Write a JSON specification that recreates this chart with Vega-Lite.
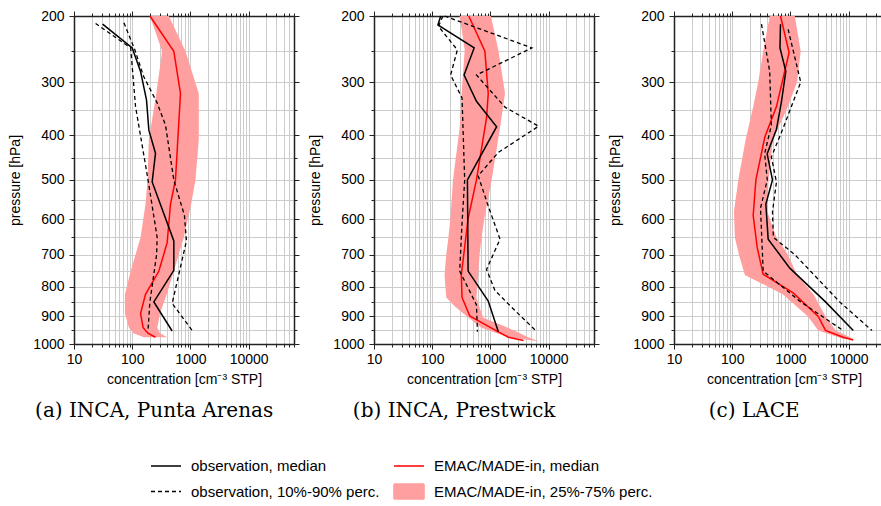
{
"$schema": "https://vega.github.io/schema/vega-lite/v6.json",
"background": "white",
"padding": {"left": 8, "top": 9, "right": 0, "bottom": 0},
"spacing": 8,
"config": {"view": {"stroke": null}, "font": "Liberation Sans"},
"datasets": {
"obs": [
{"panel":"a","series":"observation, median","q":"m","p":211,"c":31},
{"panel":"a","series":"observation, median","q":"m","p":245,"c":100},
{"panel":"a","series":"observation, median","q":"m","p":282,"c":139},
{"panel":"a","series":"observation, median","q":"m","p":332,"c":176},
{"panel":"a","series":"observation, median","q":"m","p":390,"c":193},
{"panel":"a","series":"observation, median","q":"m","p":439,"c":251},
{"panel":"a","series":"observation, median","q":"m","p":505,"c":220},
{"panel":"a","series":"observation, median","q":"m","p":660,"c":518},
{"panel":"a","series":"observation, median","q":"m","p":748,"c":518},
{"panel":"a","series":"observation, median","q":"m","p":850,"c":235},
{"panel":"a","series":"observation, median","q":"m","p":952,"c":485},
{"panel":"a","series":"observation, 10%-90% perc.","q":"p10","p":210,"c":23.5},
{"panel":"a","series":"observation, 10%-90% perc.","q":"p10","p":245,"c":94},
{"panel":"a","series":"observation, 10%-90% perc.","q":"p10","p":344,"c":114},
{"panel":"a","series":"observation, 10%-90% perc.","q":"p10","p":498,"c":186},
{"panel":"a","series":"observation, 10%-90% perc.","q":"p10","p":650,"c":268},
{"panel":"a","series":"observation, 10%-90% perc.","q":"p10","p":700,"c":262},
{"panel":"a","series":"observation, 10%-90% perc.","q":"p10","p":850,"c":201},
{"panel":"a","series":"observation, 10%-90% perc.","q":"p10","p":955,"c":186},
{"panel":"a","series":"observation, 10%-90% perc.","q":"p90","p":209,"c":72},
{"panel":"a","series":"observation, 10%-90% perc.","q":"p90","p":247,"c":110},
{"panel":"a","series":"observation, 10%-90% perc.","q":"p90","p":291,"c":158},
{"panel":"a","series":"observation, 10%-90% perc.","q":"p90","p":337,"c":268},
{"panel":"a","series":"observation, 10%-90% perc.","q":"p90","p":380,"c":373},
{"panel":"a","series":"observation, 10%-90% perc.","q":"p90","p":500,"c":518},
{"panel":"a","series":"observation, 10%-90% perc.","q":"p90","p":590,"c":789},
{"panel":"a","series":"observation, 10%-90% perc.","q":"p90","p":660,"c":853},
{"panel":"a","series":"observation, 10%-90% perc.","q":"p90","p":855,"c":485},
{"panel":"a","series":"observation, 10%-90% perc.","q":"p90","p":955,"c":1112},
{"panel":"b","series":"observation, median","q":"m","p":200,"c":140},
{"panel":"b","series":"observation, median","q":"m","p":212,"c":125},
{"panel":"b","series":"observation, median","q":"m","p":245,"c":525},
{"panel":"b","series":"observation, median","q":"m","p":288,"c":352},
{"panel":"b","series":"observation, median","q":"m","p":334,"c":575},
{"panel":"b","series":"observation, median","q":"m","p":383,"c":1276},
{"panel":"b","series":"observation, median","q":"m","p":500,"c":402},
{"panel":"b","series":"observation, median","q":"m","p":750,"c":413},
{"panel":"b","series":"observation, median","q":"m","p":847,"c":916},
{"panel":"b","series":"observation, median","q":"m","p":955,"c":1365},
{"panel":"b","series":"observation, 10%-90% perc.","q":"p10","p":200,"c":152},
{"panel":"b","series":"observation, 10%-90% perc.","q":"p10","p":214,"c":128},
{"panel":"b","series":"observation, 10%-90% perc.","q":"p10","p":248,"c":270},
{"panel":"b","series":"observation, 10%-90% perc.","q":"p10","p":288,"c":207},
{"panel":"b","series":"observation, 10%-90% perc.","q":"p10","p":328,"c":325},
{"panel":"b","series":"observation, 10%-90% perc.","q":"p10","p":500,"c":361},
{"panel":"b","series":"observation, 10%-90% perc.","q":"p10","p":610,"c":325},
{"panel":"b","series":"observation, 10%-90% perc.","q":"p10","p":750,"c":296},
{"panel":"b","series":"observation, 10%-90% perc.","q":"p10","p":860,"c":575},
{"panel":"b","series":"observation, 10%-90% perc.","q":"p10","p":955,"c":598},
{"panel":"b","series":"observation, 10%-90% perc.","q":"p90","p":200,"c":163},
{"panel":"b","series":"observation, 10%-90% perc.","q":"p90","p":245,"c":5150},
{"panel":"b","series":"observation, 10%-90% perc.","q":"p90","p":288,"c":575},
{"panel":"b","series":"observation, 10%-90% perc.","q":"p90","p":345,"c":1778},
{"panel":"b","series":"observation, 10%-90% perc.","q":"p90","p":382,"c":6710},
{"panel":"b","series":"observation, 10%-90% perc.","q":"p90","p":437,"c":1365},
{"panel":"b","series":"observation, 10%-90% perc.","q":"p90","p":490,"c":615},
{"panel":"b","series":"observation, 10%-90% perc.","q":"p90","p":565,"c":916},
{"panel":"b","series":"observation, 10%-90% perc.","q":"p90","p":655,"c":1460},
{"panel":"b","series":"observation, 10%-90% perc.","q":"p90","p":745,"c":857},
{"panel":"b","series":"observation, 10%-90% perc.","q":"p90","p":812,"c":1194},
{"panel":"b","series":"observation, 10%-90% perc.","q":"p90","p":880,"c":2650},
{"panel":"b","series":"observation, 10%-90% perc.","q":"p90","p":955,"c":6310},
{"panel":"c","series":"observation, median","q":"m","p":211,"c":674},
{"panel":"c","series":"observation, median","q":"m","p":245,"c":661},
{"panel":"c","series":"observation, median","q":"m","p":282,"c":832},
{"panel":"c","series":"observation, median","q":"m","p":335,"c":700},
{"panel":"c","series":"observation, median","q":"m","p":388,"c":575},
{"panel":"c","series":"observation, median","q":"m","p":440,"c":398},
{"panel":"c","series":"observation, median","q":"m","p":500,"c":491},
{"panel":"c","series":"observation, median","q":"m","p":560,"c":378},
{"panel":"c","series":"observation, median","q":"m","p":655,"c":414},
{"panel":"c","series":"observation, median","q":"m","p":741,"c":975},
{"panel":"c","series":"observation, median","q":"m","p":850,"c":4000},
{"panel":"c","series":"observation, median","q":"m","p":950,"c":12000},
{"panel":"c","series":"observation, 10%-90% perc.","q":"p10","p":211,"c":318},
{"panel":"c","series":"observation, 10%-90% perc.","q":"p10","p":282,"c":440},
{"panel":"c","series":"observation, 10%-90% perc.","q":"p10","p":380,"c":470},
{"panel":"c","series":"observation, 10%-90% perc.","q":"p10","p":440,"c":360},
{"panel":"c","series":"observation, 10%-90% perc.","q":"p10","p":500,"c":400},
{"panel":"c","series":"observation, 10%-90% perc.","q":"p10","p":570,"c":306},
{"panel":"c","series":"observation, 10%-90% perc.","q":"p10","p":750,"c":340},
{"panel":"c","series":"observation, 10%-90% perc.","q":"p10","p":850,"c":1500},
{"panel":"c","series":"observation, 10%-90% perc.","q":"p10","p":950,"c":8000},
{"panel":"c","series":"observation, 10%-90% perc.","q":"p90","p":218,"c":912},
{"panel":"c","series":"observation, 10%-90% perc.","q":"p90","p":300,"c":1500},
{"panel":"c","series":"observation, 10%-90% perc.","q":"p90","p":386,"c":748},
{"panel":"c","series":"observation, 10%-90% perc.","q":"p90","p":447,"c":470},
{"panel":"c","series":"observation, 10%-90% perc.","q":"p90","p":505,"c":575},
{"panel":"c","series":"observation, 10%-90% perc.","q":"p90","p":580,"c":491},
{"panel":"c","series":"observation, 10%-90% perc.","q":"p90","p":650,"c":509},
{"panel":"c","series":"observation, 10%-90% perc.","q":"p90","p":700,"c":1186},
{"panel":"c","series":"observation, 10%-90% perc.","q":"p90","p":850,"c":7000},
{"panel":"c","series":"observation, 10%-90% perc.","q":"p90","p":950,"c":25000}
],
"mod": [
{"panel":"a","series":"EMAC/MADE-in, median","p":200,"c":201},
{"panel":"a","series":"EMAC/MADE-in, median","p":250,"c":518},
{"panel":"a","series":"EMAC/MADE-in, median","p":320,"c":674},
{"panel":"a","series":"EMAC/MADE-in, median","p":500,"c":553},
{"panel":"a","series":"EMAC/MADE-in, median","p":560,"c":454},
{"panel":"a","series":"EMAC/MADE-in, median","p":665,"c":398},
{"panel":"a","series":"EMAC/MADE-in, median","p":750,"c":287},
{"panel":"a","series":"EMAC/MADE-in, median","p":825,"c":169},
{"panel":"a","series":"EMAC/MADE-in, median","p":890,"c":139},
{"panel":"a","series":"EMAC/MADE-in, median","p":940,"c":154},
{"panel":"a","series":"EMAC/MADE-in, median","p":960,"c":186},
{"panel":"a","series":"EMAC/MADE-in, median","p":975,"c":251},
{"panel":"b","series":"EMAC/MADE-in, median","p":200,"c":424},
{"panel":"b","series":"EMAC/MADE-in, median","p":250,"c":802},
{"panel":"b","series":"EMAC/MADE-in, median","p":320,"c":916},
{"panel":"b","series":"EMAC/MADE-in, median","p":365,"c":857},
{"panel":"b","series":"EMAC/MADE-in, median","p":500,"c":575},
{"panel":"b","series":"EMAC/MADE-in, median","p":598,"c":413},
{"panel":"b","series":"EMAC/MADE-in, median","p":762,"c":316},
{"panel":"b","series":"EMAC/MADE-in, median","p":835,"c":325},
{"panel":"b","series":"EMAC/MADE-in, median","p":898,"c":441},
{"panel":"b","series":"EMAC/MADE-in, median","p":955,"c":1365},
{"panel":"b","series":"EMAC/MADE-in, median","p":975,"c":2032},
{"panel":"b","series":"EMAC/MADE-in, median","p":987,"c":3700},
{"panel":"c","series":"EMAC/MADE-in, median","p":200,"c":674},
{"panel":"c","series":"EMAC/MADE-in, median","p":252,"c":948},
{"panel":"c","series":"EMAC/MADE-in, median","p":344,"c":575},
{"panel":"c","series":"EMAC/MADE-in, median","p":404,"c":363},
{"panel":"c","series":"EMAC/MADE-in, median","p":500,"c":255},
{"panel":"c","series":"EMAC/MADE-in, median","p":590,"c":229},
{"panel":"c","series":"EMAC/MADE-in, median","p":680,"c":269},
{"panel":"c","series":"EMAC/MADE-in, median","p":760,"c":340},
{"panel":"c","series":"EMAC/MADE-in, median","p":820,"c":1112},
{"panel":"c","series":"EMAC/MADE-in, median","p":900,"c":3000},
{"panel":"c","series":"EMAC/MADE-in, median","p":950,"c":4000},
{"panel":"c","series":"EMAC/MADE-in, median","p":975,"c":8000},
{"panel":"c","series":"EMAC/MADE-in, median","p":985,"c":12000}
],
"band": [
{"panel":"a","series":"EMAC/MADE-in, 25%-75% perc.","p":200,"lo":201,"hi":425},
{"panel":"a","series":"EMAC/MADE-in, 25%-75% perc.","p":250,"lo":327,"hi":821},
{"panel":"a","series":"EMAC/MADE-in, 25%-75% perc.","p":320,"lo":259,"hi":1389},
{"panel":"a","series":"EMAC/MADE-in, 25%-75% perc.","p":410,"lo":193,"hi":1389},
{"panel":"a","series":"EMAC/MADE-in, 25%-75% perc.","p":500,"lo":183,"hi":1218},
{"panel":"a","series":"EMAC/MADE-in, 25%-75% perc.","p":560,"lo":169,"hi":1030},
{"panel":"a","series":"EMAC/MADE-in, 25%-75% perc.","p":650,"lo":139,"hi":768},
{"panel":"a","series":"EMAC/MADE-in, 25%-75% perc.","p":750,"lo":94,"hi":518},
{"panel":"a","series":"EMAC/MADE-in, 25%-75% perc.","p":825,"lo":75,"hi":390},
{"panel":"a","series":"EMAC/MADE-in, 25%-75% perc.","p":890,"lo":75,"hi":300},
{"panel":"a","series":"EMAC/MADE-in, 25%-75% perc.","p":940,"lo":88,"hi":269},
{"panel":"a","series":"EMAC/MADE-in, 25%-75% perc.","p":960,"lo":105,"hi":300},
{"panel":"a","series":"EMAC/MADE-in, 25%-75% perc.","p":975,"lo":159,"hi":398},
{"panel":"b","series":"EMAC/MADE-in, 25%-75% perc.","p":200,"lo":296,"hi":1018},
{"panel":"b","series":"EMAC/MADE-in, 25%-75% perc.","p":248,"lo":361,"hi":1365},
{"panel":"b","series":"EMAC/MADE-in, 25%-75% perc.","p":320,"lo":320,"hi":1778},
{"panel":"b","series":"EMAC/MADE-in, 25%-75% perc.","p":385,"lo":296,"hi":1460},
{"panel":"b","series":"EMAC/MADE-in, 25%-75% perc.","p":500,"lo":227,"hi":1047},
{"panel":"b","series":"EMAC/MADE-in, 25%-75% perc.","p":590,"lo":207,"hi":800},
{"panel":"b","series":"EMAC/MADE-in, 25%-75% perc.","p":650,"lo":190,"hi":702},
{"panel":"b","series":"EMAC/MADE-in, 25%-75% perc.","p":700,"lo":174,"hi":650},
{"panel":"b","series":"EMAC/MADE-in, 25%-75% perc.","p":762,"lo":163,"hi":615},
{"panel":"b","series":"EMAC/MADE-in, 25%-75% perc.","p":835,"lo":174,"hi":575},
{"panel":"b","series":"EMAC/MADE-in, 25%-75% perc.","p":865,"lo":243,"hi":640},
{"panel":"b","series":"EMAC/MADE-in, 25%-75% perc.","p":905,"lo":420,"hi":750},
{"panel":"b","series":"EMAC/MADE-in, 25%-75% perc.","p":940,"lo":702,"hi":2000},
{"panel":"b","series":"EMAC/MADE-in, 25%-75% perc.","p":975,"lo":2032,"hi":4470},
{"panel":"b","series":"EMAC/MADE-in, 25%-75% perc.","p":990,"lo":6700,"hi":6760},
{"panel":"c","series":"EMAC/MADE-in, 25%-75% perc.","p":200,"lo":442,"hi":1186},
{"panel":"c","series":"EMAC/MADE-in, 25%-75% perc.","p":250,"lo":340,"hi":1500},
{"panel":"c","series":"EMAC/MADE-in, 25%-75% perc.","p":300,"lo":280,"hi":1300},
{"panel":"c","series":"EMAC/MADE-in, 25%-75% perc.","p":344,"lo":229,"hi":900},
{"panel":"c","series":"EMAC/MADE-in, 25%-75% perc.","p":410,"lo":170,"hi":500},
{"panel":"c","series":"EMAC/MADE-in, 25%-75% perc.","p":500,"lo":127,"hi":420},
{"panel":"c","series":"EMAC/MADE-in, 25%-75% perc.","p":580,"lo":107,"hi":400},
{"panel":"c","series":"EMAC/MADE-in, 25%-75% perc.","p":650,"lo":111,"hi":575},
{"panel":"c","series":"EMAC/MADE-in, 25%-75% perc.","p":700,"lo":130,"hi":900},
{"panel":"c","series":"EMAC/MADE-in, 25%-75% perc.","p":762,"lo":165,"hi":1300},
{"panel":"c","series":"EMAC/MADE-in, 25%-75% perc.","p":825,"lo":748,"hi":2500},
{"panel":"c","series":"EMAC/MADE-in, 25%-75% perc.","p":900,"lo":2000,"hi":4000},
{"panel":"c","series":"EMAC/MADE-in, 25%-75% perc.","p":950,"lo":3000,"hi":6000},
{"panel":"c","series":"EMAC/MADE-in, 25%-75% perc.","p":980,"lo":8000,"hi":12000}
]
},
"hconcat": [
{
"width": 220, "height": 328,
"title": {"text": "(a) INCA, Punta Arenas", "orient": "bottom", "anchor": "middle", "frame": "bounds", "font": "DejaVu Serif", "fontSize": 20, "fontWeight": "normal", "color": "black", "offset": 15},
"resolve": {"axis": {"x": "independent", "y": "independent"}},
"layer": [
{"data": {"name": "band"}, "transform": [{"filter": "datum.panel=='a'"}],
 "mark": {"type": "area", "orient": "horizontal"},
 "encoding": {
  "y": {"field": "p", "type": "quantitative", "scale": {"type": "pow", "exponent": 0.35, "domain": [200, 1000], "reverse": true, "nice": false, "zero": false},
   "axis": {"orient": "left", "values": [200,250,300,350,400,450,500,550,600,650,700,750,800,850,900,950,1000], "format": "d", "labelExpr": "datum.value % 100 == 0 ? datum.label : ''", "grid": true, "gridColor": "#cccccc", "gridWidth": 1, "tickSize": {"condition": {"test": "datum.value % 100 == 0", "value": 5}, "value": 3}, "tickColor": "#222", "tickWidth": 1, "domainColor": "#222", "domainWidth": 1.5, "labelFont": "Liberation Sans", "labelFontSize": 14, "labelColor": "black", "labelPadding": 5, "labelOverlap": false, "labelFlush": false, "title": "pressure [hPa]", "titleFont": "Liberation Sans", "titleFontSize": 14, "titleFontWeight": "normal", "titleColor": "black", "titlePadding": 10}},
  "x": {"field": "lo", "type": "quantitative", "scale": {"type": "log", "domain": [10, 60000], "nice": false},
   "axis": {"orient": "bottom", "values": [10,20,30,40,50,60,70,80,90,100,200,300,400,500,600,700,800,900,1000,2000,3000,4000,5000,6000,7000,8000,9000,10000,20000,30000,40000,50000,60000], "format": "d", "labelExpr": "(datum.value==10||datum.value==100||datum.value==1000||datum.value==10000) ? datum.label : ''", "grid": true, "gridColor": "#cccccc", "gridWidth": 1, "tickSize": {"condition": {"test": "datum.value==10||datum.value==100||datum.value==1000||datum.value==10000", "value": 5}, "value": 3}, "tickColor": "#222", "tickWidth": 1, "domainColor": "#222", "domainWidth": 1.5, "labelFont": "Liberation Sans", "labelFontSize": 14, "labelColor": "black", "labelPadding": 3, "labelOverlap": false, "labelFlush": false, "title": "concentration [cm⁻³ STP]", "titleFont": "Liberation Sans", "titleFontSize": 14, "titleFontWeight": "normal", "titleColor": "black", "titlePadding": 6}},
  "x2": {"field": "hi"},
  "color": {"field": "series", "type": "nominal", "scale": {"domain": ["observation, median", "observation, 10%-90% perc.", "EMAC/MADE-in, median", "EMAC/MADE-in, 25%-75% perc."], "range": ["black", "black", "red", "#ff9f9f"]},
   "legend": {"orient": "none", "legendX": 81, "legendY": 439, "title": null, "columns": 2, "columnPadding": 10, "rowPadding": 6.5, "symbolType": "stroke", "symbolSize": 400, "symbolStrokeWidth": 1.5, "labelOffset": 14, "labelFont": "Liberation Sans", "labelFontSize": 15, "labelColor": "black", "labelLimit": 400, "padding": 0,
    "encode": {"symbols": {"update": {
      "shape": {"signal": "datum.value=='EMAC/MADE-in, 25%-75% perc.' ? 'M-1.5,-0.75H1.5V0.75H-1.5Z' : 'M-1.5,0H1.5'"},
      "fill": {"signal": "datum.value=='EMAC/MADE-in, 25%-75% perc.' ? '#ff9f9f' : 'transparent'"},
      "stroke": {"signal": "datum.value=='EMAC/MADE-in, 25%-75% perc.' ? 'transparent' : (indexof(datum.value,'EMAC')>=0 ? 'red' : 'black')"},
      "strokeDash": {"signal": "datum.value=='observation, 10%-90% perc.' ? [4,3] : [1,0]"},
      "strokeWidth": {"value": 1.6},
      "opacity": {"value": 1}}}}}}
 }},
{"data": {"name": "mod"}, "transform": [{"filter": "datum.panel=='a'"}],
 "mark": {"type": "line", "strokeWidth": 1.5},
 "encoding": {
  "y": {"field": "p", "type": "quantitative", "scale": {"type": "pow", "exponent": 0.35, "domain": [200, 1000], "reverse": true, "nice": false, "zero": false},
   "axis": {"orient": "right", "values": [200,250,300,350,400,450,500,550,600,650,700,750,800,850,900,950,1000], "labels": false, "grid": false, "title": null, "tickSize": {"condition": {"test": "datum.value % 100 == 0", "value": 5}, "value": 3}, "tickColor": "#222", "domainColor": "#222", "domainWidth": 1.5}},
  "x": {"field": "c", "type": "quantitative", "scale": {"type": "log", "domain": [10, 60000], "nice": false},
   "axis": {"orient": "top", "values": [10,20,30,40,50,60,70,80,90,100,200,300,400,500,600,700,800,900,1000,2000,3000,4000,5000,6000,7000,8000,9000,10000,20000,30000,40000,50000,60000], "labels": false, "grid": false, "title": null, "tickSize": {"condition": {"test": "datum.value==10||datum.value==100||datum.value==1000||datum.value==10000", "value": 5}, "value": 3}, "tickColor": "#222", "domainColor": "#222", "domainWidth": 1.5}},
  "order": {"field": "p", "type": "quantitative"},
  "color": {"field": "series", "type": "nominal", "scale": {"domain": ["observation, median", "observation, 10%-90% perc.", "EMAC/MADE-in, median", "EMAC/MADE-in, 25%-75% perc."], "range": ["black", "black", "red", "#ff9f9f"]}}
 }},
{"data": {"name": "obs"}, "transform": [{"filter": "datum.panel=='a' && datum.q!='m'"}],
 "mark": {"type": "line", "strokeWidth": 1.3, "strokeDash": [4, 3]},
 "encoding": {
  "y": {"field": "p", "type": "quantitative", "scale": {"type": "pow", "exponent": 0.35, "domain": [200, 1000], "reverse": true, "nice": false, "zero": false}, "axis": null},
  "x": {"field": "c", "type": "quantitative", "scale": {"type": "log", "domain": [10, 60000], "nice": false}, "axis": null},
  "order": {"field": "p", "type": "quantitative"},
  "detail": {"field": "q"},
  "color": {"field": "series", "type": "nominal", "scale": {"domain": ["observation, median", "observation, 10%-90% perc.", "EMAC/MADE-in, median", "EMAC/MADE-in, 25%-75% perc."], "range": ["black", "black", "red", "#ff9f9f"]}}
 }},
{"data": {"name": "obs"}, "transform": [{"filter": "datum.panel=='a' && datum.q=='m'"}],
 "mark": {"type": "line", "strokeWidth": 1.5},
 "encoding": {
  "y": {"field": "p", "type": "quantitative", "scale": {"type": "pow", "exponent": 0.35, "domain": [200, 1000], "reverse": true, "nice": false, "zero": false}, "axis": null},
  "x": {"field": "c", "type": "quantitative", "scale": {"type": "log", "domain": [10, 60000], "nice": false}, "axis": null},
  "order": {"field": "p", "type": "quantitative"},
  "color": {"field": "series", "type": "nominal", "scale": {"domain": ["observation, median", "observation, 10%-90% perc.", "EMAC/MADE-in, median", "EMAC/MADE-in, 25%-75% perc."], "range": ["black", "black", "red", "#ff9f9f"]}}
 }}
]
},
{
"width": 220, "height": 328,
"title": {"text": "(b) INCA, Prestwick", "orient": "bottom", "anchor": "middle", "frame": "bounds", "font": "DejaVu Serif", "fontSize": 20, "fontWeight": "normal", "color": "black", "offset": 15},
"resolve": {"axis": {"x": "independent", "y": "independent"}},
"layer": [
{"data": {"name": "band"}, "transform": [{"filter": "datum.panel=='b'"}],
 "mark": {"type": "area", "orient": "horizontal"},
 "encoding": {
  "y": {"field": "p", "type": "quantitative", "scale": {"type": "pow", "exponent": 0.35, "domain": [200, 1000], "reverse": true, "nice": false, "zero": false},
   "axis": {"orient": "left", "values": [200,250,300,350,400,450,500,550,600,650,700,750,800,850,900,950,1000], "format": "d", "labelExpr": "datum.value % 100 == 0 ? datum.label : ''", "grid": true, "gridColor": "#cccccc", "gridWidth": 1, "tickSize": {"condition": {"test": "datum.value % 100 == 0", "value": 5}, "value": 3}, "tickColor": "#222", "tickWidth": 1, "domainColor": "#222", "domainWidth": 1.5, "labelFont": "Liberation Sans", "labelFontSize": 14, "labelColor": "black", "labelPadding": 5, "labelOverlap": false, "labelFlush": false, "title": "pressure [hPa]", "titleFont": "Liberation Sans", "titleFontSize": 14, "titleFontWeight": "normal", "titleColor": "black", "titlePadding": 10}},
  "x": {"field": "lo", "type": "quantitative", "scale": {"type": "log", "domain": [10, 60000], "nice": false},
   "axis": {"orient": "bottom", "values": [10,20,30,40,50,60,70,80,90,100,200,300,400,500,600,700,800,900,1000,2000,3000,4000,5000,6000,7000,8000,9000,10000,20000,30000,40000,50000,60000], "format": "d", "labelExpr": "(datum.value==10||datum.value==100||datum.value==1000||datum.value==10000) ? datum.label : ''", "grid": true, "gridColor": "#cccccc", "gridWidth": 1, "tickSize": {"condition": {"test": "datum.value==10||datum.value==100||datum.value==1000||datum.value==10000", "value": 5}, "value": 3}, "tickColor": "#222", "tickWidth": 1, "domainColor": "#222", "domainWidth": 1.5, "labelFont": "Liberation Sans", "labelFontSize": 14, "labelColor": "black", "labelPadding": 3, "labelOverlap": false, "labelFlush": false, "title": "concentration [cm⁻³ STP]", "titleFont": "Liberation Sans", "titleFontSize": 14, "titleFontWeight": "normal", "titleColor": "black", "titlePadding": 6}},
  "x2": {"field": "hi"},
  "color": {"field": "series", "type": "nominal", "scale": {"domain": ["observation, median", "observation, 10%-90% perc.", "EMAC/MADE-in, median", "EMAC/MADE-in, 25%-75% perc."], "range": ["black", "black", "red", "#ff9f9f"]}}
 }},
{"data": {"name": "mod"}, "transform": [{"filter": "datum.panel=='b'"}],
 "mark": {"type": "line", "strokeWidth": 1.5},
 "encoding": {
  "y": {"field": "p", "type": "quantitative", "scale": {"type": "pow", "exponent": 0.35, "domain": [200, 1000], "reverse": true, "nice": false, "zero": false},
   "axis": {"orient": "right", "values": [200,250,300,350,400,450,500,550,600,650,700,750,800,850,900,950,1000], "labels": false, "grid": false, "title": null, "tickSize": {"condition": {"test": "datum.value % 100 == 0", "value": 5}, "value": 3}, "tickColor": "#222", "domainColor": "#222", "domainWidth": 1.5}},
  "x": {"field": "c", "type": "quantitative", "scale": {"type": "log", "domain": [10, 60000], "nice": false},
   "axis": {"orient": "top", "values": [10,20,30,40,50,60,70,80,90,100,200,300,400,500,600,700,800,900,1000,2000,3000,4000,5000,6000,7000,8000,9000,10000,20000,30000,40000,50000,60000], "labels": false, "grid": false, "title": null, "tickSize": {"condition": {"test": "datum.value==10||datum.value==100||datum.value==1000||datum.value==10000", "value": 5}, "value": 3}, "tickColor": "#222", "domainColor": "#222", "domainWidth": 1.5}},
  "order": {"field": "p", "type": "quantitative"},
  "color": {"field": "series", "type": "nominal", "scale": {"domain": ["observation, median", "observation, 10%-90% perc.", "EMAC/MADE-in, median", "EMAC/MADE-in, 25%-75% perc."], "range": ["black", "black", "red", "#ff9f9f"]}}
 }},
{"data": {"name": "obs"}, "transform": [{"filter": "datum.panel=='b' && datum.q!='m'"}],
 "mark": {"type": "line", "strokeWidth": 1.3, "strokeDash": [4, 3]},
 "encoding": {
  "y": {"field": "p", "type": "quantitative", "scale": {"type": "pow", "exponent": 0.35, "domain": [200, 1000], "reverse": true, "nice": false, "zero": false}, "axis": null},
  "x": {"field": "c", "type": "quantitative", "scale": {"type": "log", "domain": [10, 60000], "nice": false}, "axis": null},
  "order": {"field": "p", "type": "quantitative"},
  "detail": {"field": "q"},
  "color": {"field": "series", "type": "nominal", "scale": {"domain": ["observation, median", "observation, 10%-90% perc.", "EMAC/MADE-in, median", "EMAC/MADE-in, 25%-75% perc."], "range": ["black", "black", "red", "#ff9f9f"]}}
 }},
{"data": {"name": "obs"}, "transform": [{"filter": "datum.panel=='b' && datum.q=='m'"}],
 "mark": {"type": "line", "strokeWidth": 1.5},
 "encoding": {
  "y": {"field": "p", "type": "quantitative", "scale": {"type": "pow", "exponent": 0.35, "domain": [200, 1000], "reverse": true, "nice": false, "zero": false}, "axis": null},
  "x": {"field": "c", "type": "quantitative", "scale": {"type": "log", "domain": [10, 60000], "nice": false}, "axis": null},
  "order": {"field": "p", "type": "quantitative"},
  "color": {"field": "series", "type": "nominal", "scale": {"domain": ["observation, median", "observation, 10%-90% perc.", "EMAC/MADE-in, median", "EMAC/MADE-in, 25%-75% perc."], "range": ["black", "black", "red", "#ff9f9f"]}}
 }}
]
},
{
"width": 220, "height": 328,
"title": {"text": "(c) LACE", "orient": "bottom", "anchor": "middle", "frame": "bounds", "font": "DejaVu Serif", "fontSize": 20, "fontWeight": "normal", "color": "black", "offset": 15},
"resolve": {"axis": {"x": "independent", "y": "independent"}},
"layer": [
{"data": {"name": "band"}, "transform": [{"filter": "datum.panel=='c'"}],
 "mark": {"type": "area", "orient": "horizontal"},
 "encoding": {
  "y": {"field": "p", "type": "quantitative", "scale": {"type": "pow", "exponent": 0.35, "domain": [200, 1000], "reverse": true, "nice": false, "zero": false},
   "axis": {"orient": "left", "values": [200,250,300,350,400,450,500,550,600,650,700,750,800,850,900,950,1000], "format": "d", "labelExpr": "datum.value % 100 == 0 ? datum.label : ''", "grid": true, "gridColor": "#cccccc", "gridWidth": 1, "tickSize": {"condition": {"test": "datum.value % 100 == 0", "value": 5}, "value": 3}, "tickColor": "#222", "tickWidth": 1, "domainColor": "#222", "domainWidth": 1.5, "labelFont": "Liberation Sans", "labelFontSize": 14, "labelColor": "black", "labelPadding": 5, "labelOverlap": false, "labelFlush": false, "title": "pressure [hPa]", "titleFont": "Liberation Sans", "titleFontSize": 14, "titleFontWeight": "normal", "titleColor": "black", "titlePadding": 10}},
  "x": {"field": "lo", "type": "quantitative", "scale": {"type": "log", "domain": [10, 60000], "nice": false},
   "axis": {"orient": "bottom", "values": [10,20,30,40,50,60,70,80,90,100,200,300,400,500,600,700,800,900,1000,2000,3000,4000,5000,6000,7000,8000,9000,10000,20000,30000,40000,50000,60000], "format": "d", "labelExpr": "(datum.value==10||datum.value==100||datum.value==1000||datum.value==10000) ? datum.label : ''", "grid": true, "gridColor": "#cccccc", "gridWidth": 1, "tickSize": {"condition": {"test": "datum.value==10||datum.value==100||datum.value==1000||datum.value==10000", "value": 5}, "value": 3}, "tickColor": "#222", "tickWidth": 1, "domainColor": "#222", "domainWidth": 1.5, "labelFont": "Liberation Sans", "labelFontSize": 14, "labelColor": "black", "labelPadding": 3, "labelOverlap": false, "labelFlush": false, "title": "concentration [cm⁻³ STP]", "titleFont": "Liberation Sans", "titleFontSize": 14, "titleFontWeight": "normal", "titleColor": "black", "titlePadding": 6}},
  "x2": {"field": "hi"},
  "color": {"field": "series", "type": "nominal", "scale": {"domain": ["observation, median", "observation, 10%-90% perc.", "EMAC/MADE-in, median", "EMAC/MADE-in, 25%-75% perc."], "range": ["black", "black", "red", "#ff9f9f"]}}
 }},
{"data": {"name": "mod"}, "transform": [{"filter": "datum.panel=='c'"}],
 "mark": {"type": "line", "strokeWidth": 1.5},
 "encoding": {
  "y": {"field": "p", "type": "quantitative", "scale": {"type": "pow", "exponent": 0.35, "domain": [200, 1000], "reverse": true, "nice": false, "zero": false},
   "axis": {"orient": "right", "values": [200,250,300,350,400,450,500,550,600,650,700,750,800,850,900,950,1000], "labels": false, "grid": false, "title": null, "tickSize": {"condition": {"test": "datum.value % 100 == 0", "value": 5}, "value": 3}, "tickColor": "#222", "domainColor": "#222", "domainWidth": 1.5}},
  "x": {"field": "c", "type": "quantitative", "scale": {"type": "log", "domain": [10, 60000], "nice": false},
   "axis": {"orient": "top", "values": [10,20,30,40,50,60,70,80,90,100,200,300,400,500,600,700,800,900,1000,2000,3000,4000,5000,6000,7000,8000,9000,10000,20000,30000,40000,50000,60000], "labels": false, "grid": false, "title": null, "tickSize": {"condition": {"test": "datum.value==10||datum.value==100||datum.value==1000||datum.value==10000", "value": 5}, "value": 3}, "tickColor": "#222", "domainColor": "#222", "domainWidth": 1.5}},
  "order": {"field": "p", "type": "quantitative"},
  "color": {"field": "series", "type": "nominal", "scale": {"domain": ["observation, median", "observation, 10%-90% perc.", "EMAC/MADE-in, median", "EMAC/MADE-in, 25%-75% perc."], "range": ["black", "black", "red", "#ff9f9f"]}}
 }},
{"data": {"name": "obs"}, "transform": [{"filter": "datum.panel=='c' && datum.q!='m'"}],
 "mark": {"type": "line", "strokeWidth": 1.3, "strokeDash": [4, 3]},
 "encoding": {
  "y": {"field": "p", "type": "quantitative", "scale": {"type": "pow", "exponent": 0.35, "domain": [200, 1000], "reverse": true, "nice": false, "zero": false}, "axis": null},
  "x": {"field": "c", "type": "quantitative", "scale": {"type": "log", "domain": [10, 60000], "nice": false}, "axis": null},
  "order": {"field": "p", "type": "quantitative"},
  "detail": {"field": "q"},
  "color": {"field": "series", "type": "nominal", "scale": {"domain": ["observation, median", "observation, 10%-90% perc.", "EMAC/MADE-in, median", "EMAC/MADE-in, 25%-75% perc."], "range": ["black", "black", "red", "#ff9f9f"]}}
 }},
{"data": {"name": "obs"}, "transform": [{"filter": "datum.panel=='c' && datum.q=='m'"}],
 "mark": {"type": "line", "strokeWidth": 1.5},
 "encoding": {
  "y": {"field": "p", "type": "quantitative", "scale": {"type": "pow", "exponent": 0.35, "domain": [200, 1000], "reverse": true, "nice": false, "zero": false}, "axis": null},
  "x": {"field": "c", "type": "quantitative", "scale": {"type": "log", "domain": [10, 60000], "nice": false}, "axis": null},
  "order": {"field": "p", "type": "quantitative"},
  "color": {"field": "series", "type": "nominal", "scale": {"domain": ["observation, median", "observation, 10%-90% perc.", "EMAC/MADE-in, median", "EMAC/MADE-in, 25%-75% perc."], "range": ["black", "black", "red", "#ff9f9f"]}}
 }}
]
}
]
}
